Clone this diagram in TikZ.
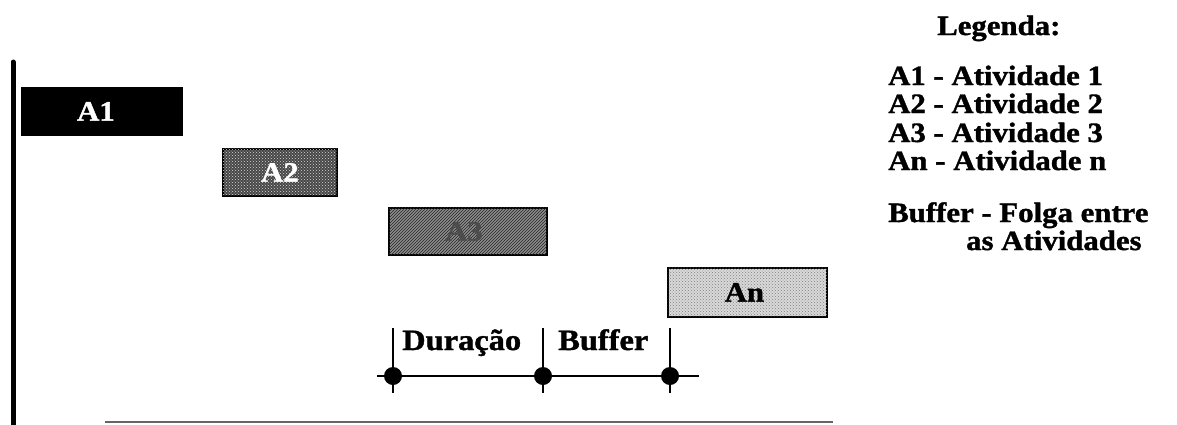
\documentclass[tikz,border=0pt]{standalone}
\usepackage{fontspec}
\setmainfont{Liberation Serif}[FakeStretch=1.1, BoldFeatures={FakeBold=1.3}]
\usetikzlibrary{patterns}
\begin{document}
\begin{tikzpicture}[x=1pt,y=-1pt,
  txt/.style={font=\fontsize{28}{30}\selectfont\bfseries, inner sep=0pt},
  bigtxt/.style={font=\fontsize{29.5}{30}\selectfont\bfseries, inner sep=0pt},
  bar/.style={draw=black, line width=1.8pt, anchor=north west, inner sep=0pt},
  axisline/.style={line width=5pt, line cap=round},
  baseline/.style={line width=1.4pt, draw=black!60},
  tick/.style={line width=2.2pt},
  track/.style={line width=2.6pt},
  event/.style={circle, fill=black, inner sep=0pt, minimum size=18pt}]
\useasboundingbox (0,0) rectangle (1177,424);

% time axis
\coordinate (ax0) at (13,62);
\coordinate (ax1) at (13,427);
\draw[axisline] (ax0) -- (ax1);
\coordinate (bl0) at (105,422);
\coordinate (bl1) at (833,422);
\draw[baseline] (bl0) -- (bl1);

% activity bars
\node[bar, fill=black, minimum width=160pt, minimum height=47pt] (a1) at (21,87) {};
\node[bar, fill=black!72, postaction={pattern=crosshatch dots, pattern color=white!85!black},
      minimum width=114pt, minimum height=47pt] (a2) at (222,148) {};
\node[bar, fill=black!45, postaction={pattern=north east lines, pattern color=black!85},
      minimum width=158pt, minimum height=47pt] (a3) at (388,207) {};
\node[bar, fill=black!15, postaction={pattern=crosshatch dots, pattern color=black!50},
      minimum width=159pt, minimum height=49pt] (an) at (667,267) {};

% bar labels
\node[txt, text=white] (a1t) at ([xshift=-6pt]a1.center) {A1};
\node[txt, text=white] (a2t) at (a2.center) {A2};
\node[txt, text=black!70] (a3t) at ([xshift=-4pt]a3.center) {A3};
\node[txt, text=black] (ant) at ([xshift=-3pt]an.center) {An};

% duration / buffer scale
\coordinate (tl) at (377,376);
\coordinate (tr) at (699,376);
\draw[track] (tl) -- (tr);
\foreach \n/\x in {t1/393,t2/543,t3/670}{
  \coordinate (\n top) at (\x,328);
  \coordinate (\n bot) at (\x,393);
  \draw[tick] (\n top) -- (\n bot);
  \node[event] (\n) at (\x,376) {};
}
\node[bigtxt, anchor=base west] (dur) at (402,350) {Duração};
\node[bigtxt, anchor=base west] (buf) at (558,350) {Buffer};

% legend
\node[txt, anchor=base west] (leg) at (937,35) {Legenda:};
\node[txt, anchor=base west] (l1) at (888,85) {A1 - Atividade 1};
\node[txt, anchor=base west] (l2) at (888,113) {A2 - Atividade 2};
\node[txt, anchor=base west] (l3) at (888,142) {A3 - Atividade 3};
\node[txt, anchor=base west] (l4) at (888,170) {An - Atividade n};
\node[txt, anchor=base west] (l5) at (888,222) {Buffer - Folga entre};
\node[txt, anchor=base west] (l6) at (966,250) {as Atividades};
\end{tikzpicture}
\end{document}
